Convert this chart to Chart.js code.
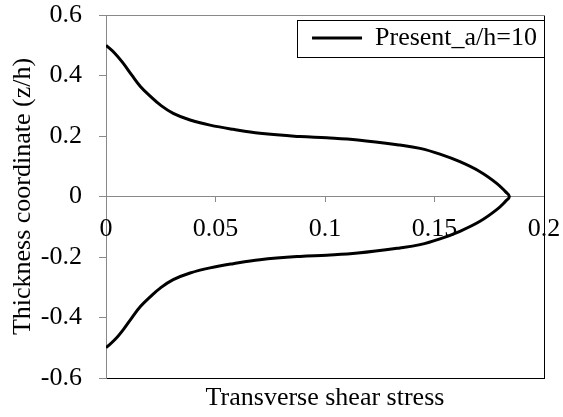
<!DOCTYPE html>
<html>
<head>
<meta charset="utf-8">
<script src="https://cdn.jsdelivr.net/npm/chart.js@4.4.1/dist/chart.umd.min.js"></script>
<style>
  html, body { margin: 0; padding: 0; background: #fff; }
</style>
</head>
<body>
<canvas id="chart" width="563" height="417"></canvas>
<script>
const seriesLabel = 'Present_a/h=10';
const zCoord = [0.5, 0.473, 0.44, 0.402, 0.364, 0.331, 0.302, 0.275, 0.253, 0.236, 0.222, 0.209, 0.198, 0.194, 0.187, 0.17, 0.159, 0.14, 0.115, 0.082, 0.0436, 0.016, 0,
  -0.016, -0.0436, -0.082, -0.115, -0.14, -0.159, -0.17, -0.187, -0.194, -0.198, -0.209, -0.222, -0.236, -0.253, -0.275, -0.302, -0.331, -0.364, -0.402, -0.44, -0.473, -0.5];
const shearStress = [0, 0.0041, 0.0079, 0.0117, 0.0157, 0.0203, 0.0249, 0.0307, 0.0384, 0.0475, 0.0581, 0.0703, 0.0886, 0.1008, 0.115, 0.1342, 0.1434, 0.1525, 0.1616, 0.1708, 0.1784, 0.1824, 0.1842,
  0.1824, 0.1784, 0.1708, 0.1616, 0.1525, 0.1434, 0.1342, 0.115, 0.1008, 0.0886, 0.0703, 0.0581, 0.0475, 0.0384, 0.0307, 0.0249, 0.0203, 0.0157, 0.0117, 0.0079, 0.0041, 0];
const xRange = [0, 0.2];
const xStep = 0.05;
const yRange = [-0.6, 0.6];
const yStep = 0.2;

const points = zCoord.map((z, i) => ({ x: shearStress[i], y: z }));
const serif = { family: '"Liberation Serif", "Times New Roman", serif', size: 26 };
const fmt = (v) => String(+Number(v).toFixed(2));
const axisGray = '#898989';
const noPad = (s) => { s.paddingLeft = 0; s.paddingRight = 0; s.paddingTop = 0; s.paddingBottom = 0; };

// put the legend top-right inside the plot area and frame it
const legendPlace = {
  id: 'legendPlace',
  afterLayout(chart) {
    const lg = chart.legend;
    const area = chart.chartArea;
    const hb = lg.legendHitBoxes[0];
    if (!hb) return;
    const pad = lg.options.labels.padding;
    const w = hb.width + pad * 2;
    lg.left = area.right - 7 - hb.width - pad;
    lg.right = lg.left + w;
    lg.top = area.top - pad + 10;
    lg.bottom = lg.top + lg.height;
  },
  afterDraw(chart) {
    const hb = chart.legend.legendHitBoxes[0];
    if (!hb) return;
    const ctx = chart.ctx;
    ctx.save();
    ctx.strokeStyle = '#000';
    ctx.lineWidth = 1;
    ctx.strokeRect(Math.round(hb.left - 15) + 0.5, Math.round(hb.top + hb.height / 2 - 18) + 0.5, Math.round(hb.width + 22), 37);
    ctx.restore();
  }
};

new Chart(document.getElementById('chart'), {
  type: 'scatter',
  data: {
    datasets: [{
      label: seriesLabel,
      data: points,
      showLine: true,
      borderColor: '#000',
      backgroundColor: '#000',
      borderWidth: 3,
      pointRadius: 0,
      tension: 0.4,
      xAxisID: 'x',
      yAxisID: 'y'
    }]
  },
  options: {
    responsive: false,
    animation: false,
    layout: { padding: { top: 15, right: 19, left: 0, bottom: 0 } },
    plugins: {
      legend: {
        position: 'chartArea',
        align: 'start',
        labels: {
          usePointStyle: true,
          pointStyle: 'line',
          pointStyleWidth: 50,
          font: serif,
          color: '#000',
          padding: 10
        }
      },
      tooltip: { enabled: false }
    },
    scales: {
      x: {
        type: 'linear',
        position: 'bottom',
        min: xRange[0],
        max: xRange[1],
        ticks: { display: false },
        grid: { display: false, drawTicks: false },
        border: { color: '#000', width: 1 },
        title: { display: true, text: 'Transverse shear stress', font: serif, color: '#000', padding: { top: 0, bottom: 3 } },
        afterFit: (s) => { s.height = 39; noPad(s); }
      },
      y: {
        type: 'linear',
        position: 'left',
        min: yRange[0],
        max: yRange[1],
        ticks: { stepSize: yStep, font: serif, color: '#000', padding: 17, callback: fmt },
        grid: { drawOnChartArea: false, tickLength: 7, tickColor: axisGray },
        border: { color: axisGray, width: 1 },
        title: { display: true, text: 'Thickness coordinate (z/h)', font: serif, color: '#000', padding: { top: 8, bottom: 0 } },
        afterFit: (s) => { s.width = 106; noPad(s); }
      },
      x2: {
        type: 'linear',
        position: { y: 0 },
        min: xRange[0],
        max: xRange[1],
        ticks: { stepSize: xStep, font: serif, color: '#000', padding: 12, autoSkip: false, maxRotation: 0, callback: fmt },
        grid: { drawOnChartArea: false, tickLength: 5, tickColor: axisGray },
        border: { color: axisGray, width: 1 },
        afterFit: noPad
      },
      yRight: {
        type: 'linear',
        position: 'right',
        ticks: { display: false },
        grid: { display: false, drawTicks: false },
        border: { color: '#000', width: 1 },
        afterFit: (s) => { s.width = 0; noPad(s); }
      },
      xTop: {
        type: 'linear',
        position: 'top',
        ticks: { display: false },
        grid: { display: false, drawTicks: false },
        border: { color: axisGray, width: 1 },
        afterFit: (s) => { s.height = 0; noPad(s); }
      }
    }
  },
  plugins: [legendPlace]
});
</script>
</body>
</html>
